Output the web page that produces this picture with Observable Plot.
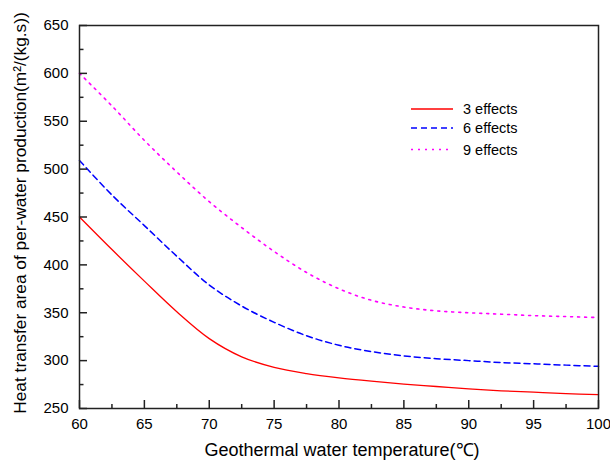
<!DOCTYPE html>
<html>
<head>
<meta charset="utf-8">
<script src="https://cdn.jsdelivr.net/npm/d3@7"></script>
<script src="https://cdn.jsdelivr.net/npm/@observablehq/plot@0.6"></script>
<style>
  html, body { margin: 0; padding: 0; background: #fff; }
</style>
</head>
<body>
<div id="chart"></div>
<script>
// ---- data ----
const temps   = [60, 62.5, 65, 67.5, 70, 72.5, 75, 77.5, 80, 82.5, 85, 87.5, 90, 92.5, 95, 97.5, 100];
const effects3 = [450, 416, 383, 351, 323, 304, 293, 286.5, 282, 278.5, 275.5, 273, 270.5, 268.5, 267, 265.5, 264.5];
const effects6 = [509, 473, 441, 409, 379, 357, 340, 326, 316, 309.5, 305, 302, 300, 298, 296.7, 295.3, 294];
const effects9 = [600, 566, 530, 497, 466, 439, 414, 392, 375, 363, 356, 352, 350, 348.5, 347, 346, 345];
const seriesNames = ["3 effects", "6 effects", "9 effects"];
const xTicks = [60, 65, 70, 75, 80, 85, 90, 95, 100];
const xMinorTicks = [62.5, 67.5, 72.5, 77.5, 82.5, 87.5, 92.5, 97.5];
const yTicks = [250, 300, 350, 400, 450, 500, 550, 600, 650];
const yMinorTicks = [275, 325, 375, 425, 475, 525, 575, 625];
const xLabel = "Geothermal water temperature(\u2103)";
const yLabel = "Heat transfer area of per-water production(m\u00B2/(kg.s))";

// ---- styles ----
const colors = ["#ff0000", "#0000ff", "#ff00ff"];
const dashes = [null, "6,4", "2,5"];
const widths = [1.3, 1.5, 1.6];

const W = 610, H = 460;
const mL = 79, mR = 12, mT = 25, mB = 52;
const innerW = W - mL - mR, innerH = H - mT - mB;

const seriesValues = [effects3, effects6, effects9];
const rows = seriesValues.flatMap((vals, s) =>
  vals.map((v, i) => ({series: seriesNames[s], t: temps[i], v})));

const axisColor = "#222";
const fontFamily = "'Liberation Sans', Arial, sans-serif";

const plot = Plot.plot({
  width: W, height: H,
  marginLeft: mL, marginRight: mR, marginTop: mT, marginBottom: mB,
  style: {fontFamily, fontSize: "15px", background: "#fff", color: "#000"},
  x: {domain: [60, 100]},
  y: {domain: [250, 650]},
  marks: [
    ...seriesNames.map((name, s) =>
      Plot.line(rows.filter(d => d.series === name), {
        x: "t", y: "v", curve: "catmull-rom",
        stroke: colors[s], strokeWidth: widths[s],
        strokeDasharray: dashes[s]
      })),
    // inward ticks
    Plot.ruleX(xTicks, {x: d => d, insetTop: innerH - 8, stroke: axisColor, strokeWidth: 1.5}),
    Plot.ruleX(xMinorTicks, {x: d => d, insetTop: innerH - 4, stroke: axisColor, strokeWidth: 1.5}),
    Plot.ruleY(yTicks, {y: d => d, insetRight: innerW - 8, stroke: axisColor, strokeWidth: 1.5}),
    Plot.ruleY(yMinorTicks, {y: d => d, insetRight: innerW - 4.5, stroke: axisColor, strokeWidth: 1.5}),
    Plot.axisX({ticks: xTicks, tickSize: 0, tickPadding: 10, fontSize: 15, label: null}),
    Plot.axisY({ticks: yTicks, tickSize: 0, tickPadding: 11, fontSize: 15, label: null}),
    Plot.frame({stroke: axisColor, strokeWidth: 1.5}),
    Plot.text([xLabel], {text: d => d, frameAnchor: "bottom", textAnchor: "middle", dy: 47, dx: 3, fontSize: 18}),
    Plot.text([yLabel], {text: d => d, frameAnchor: "left", textAnchor: "middle", rotate: -90, dx: -59, dy: -4, fontSize: 17.3})
  ]
});

// ---- legend (annotation) ----
const svg = d3.select(plot);
const legendRows = [109, 128, 149.5];
const lg = svg.append("g")
  .attr("font-family", fontFamily)
  .attr("font-size", 14.5)
  .attr("text-anchor", "start");
seriesNames.forEach((name, i) => {
  lg.append("line")
    .attr("x1", 411).attr("x2", 453)
    .attr("y1", legendRows[i]).attr("y2", legendRows[i])
    .attr("stroke", colors[i]).attr("stroke-width", widths[i])
    .attr("stroke-dasharray", dashes[i]);
  lg.append("text")
    .attr("x", 463).attr("y", legendRows[i]).attr("dy", "0.35em")
    .attr("fill", "#000")
    .attr("text-anchor", "start")
    .text(name);
});

document.getElementById("chart").appendChild(plot);
</script>
</body>
</html>
